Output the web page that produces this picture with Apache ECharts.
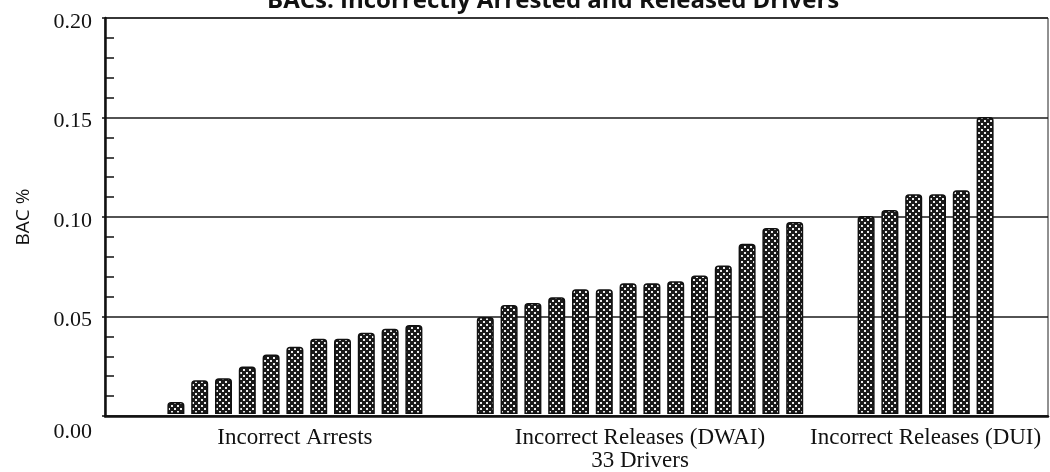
<!DOCTYPE html>
<html>
<head>
<meta charset="utf-8">
<script src="https://cdn.jsdelivr.net/npm/echarts@6/dist/echarts.min.js"></script>
<style>
  html, body { margin: 0; padding: 0; background: #fff; }
  #chart { width: 1050px; height: 472px; }
</style>
</head>
<body>
<div id="chart"></div>
<script>
// ---- data ----
const titleText = 'BACs: Incorrectly Arrested and Released Drivers';
const yAxisName = 'BAC %';
const groupNames = ['Incorrect Arrests', 'Incorrect Releases (DWAI)\n33 Drivers', 'Incorrect Releases (DUI)'];
const arrestsBAC = [0.006, 0.017, 0.018, 0.024, 0.030, 0.034, 0.038, 0.038, 0.041, 0.043, 0.045];
const dwaiBAC = [0.049, 0.055, 0.056, 0.059, 0.063, 0.063, 0.066, 0.066, 0.067, 0.070, 0.075, 0.086, 0.094, 0.097];
const duiBAC = [0.100, 0.103, 0.111, 0.111, 0.113, 0.150];
const yTickLabels = ['0.00', '0.05', '0.10', '0.15', '0.20'];

// ---- build slots (empty category slots between groups) ----
const GAP = 2;
const groups = [arrestsBAC, dwaiBAC, duiBAC];
const slotValues = [];
const groupStarts = [];
groups.forEach((g, i) => {
  if (i > 0) for (let k = 0; k < GAP; k++) slotValues.push('-');
  groupStarts.push(slotValues.length);
  g.forEach(v => slotValues.push(v));
});
const slotCats = slotValues.map((_, i) => 's' + i);
// label axis: half-slot resolution, boundaryGap false -> 2*N+1 points
const labelCats = new Array(slotValues.length * 2 + 1).fill('');
groups.forEach((g, i) => { labelCats[2 * groupStarts[i] + g.length] = groupNames[i]; });

// ---- dotted fill pattern ----
function makePattern() {
  const c = document.createElement('canvas');
  c.width = 6; c.height = 6;
  const g = c.getContext('2d');
  g.fillStyle = '#1a1a1a';
  g.fillRect(0, 0, 6, 6);
  g.fillStyle = '#eeeeee';
  g.fillRect(0, 0, 2, 2);
  g.fillRect(3, 3, 2, 2);
  return c;
}

const chart = echarts.init(document.getElementById('chart'), null, { renderer: 'canvas' });
const serif = 'Liberation Serif';
chart.setOption({
  animation: false,
  backgroundColor: '#ffffff',
  title: {
    text: titleText,
    left: 262,
    top: -16,
    textStyle: { fontFamily: 'Open Sans', fontWeight: 'bold', fontSize: 24, color: '#111' }
  },
  grid: [
    { left: 105, right: 2, top: 18, bottom: 56, show: true, borderColor: '#222', borderWidth: 1, backgroundColor: 'transparent' },
    { left: 164, right: 53, top: 18, bottom: 56, show: false }
  ],
  xAxis: [
    { gridIndex: 0, type: 'value', min: 0, max: 1, axisLine: { show: true, onZero: false, lineStyle: { color: '#111', width: 2.5 } },
      axisTick: { show: false }, axisLabel: { show: false }, splitLine: { show: false } },
    { gridIndex: 1, type: 'category', data: slotCats, position: 'bottom',
      axisLine: { show: false }, axisTick: { show: false }, axisLabel: { show: false }, splitLine: { show: false } },
    { gridIndex: 1, type: 'category', data: labelCats, position: 'bottom', boundaryGap: false,
      axisLine: { show: false }, axisTick: { show: false }, splitLine: { show: false },
      axisLabel: { show: true, interval: 0, margin: 12, fontFamily: serif, fontSize: 23, lineHeight: 23, color: '#111', hideOverlap: false } }
  ],
  yAxis: [
    { gridIndex: 0, type: 'value', min: 0, max: 0.2, interval: 0.05,
      name: yAxisName, nameLocation: 'middle', nameGap: 72,
      nameTextStyle: { fontFamily: 'Open Sans', fontSize: 19, color: '#111' },
      axisLine: { show: true, lineStyle: { color: '#111', width: 2.5 } },
      axisTick: { show: false, inside: true },
      minorTick: { show: true, splitNumber: 5, length: 9, lineStyle: { color: '#111', width: 1.5 } },
      splitLine: { show: true, lineStyle: { color: '#1a1a1a', width: 1.6 } },
      axisLabel: {
        margin: 13, fontFamily: serif, fontSize: 22, color: '#111',
        formatter: v => {
          const idx = Math.round(v / 0.05);
          const t = yTickLabels[idx];
          return idx === 0 ? '{z|' + t + '}' : '{n|' + t + '}';
        },
        rich: {
          z: { fontFamily: serif, fontSize: 22, color: '#111', padding: [32, 0, 0, 0] },
          n: { fontFamily: serif, fontSize: 22, color: '#111', padding: [8, 0, 0, 0] }
        }
      }
    },
    { gridIndex: 0, type: 'value', min: 0, max: 0.2, interval: 0.05, position: 'left',
      axisLine: { show: false }, axisTick: { show: true, length: 3, lineStyle: { color: '#111', width: 1.5 } },
      axisLabel: { show: false }, splitLine: { show: false } },
    { gridIndex: 1, type: 'value', min: 0, max: 0.2, show: false }
  ],
  series: [{
    type: 'bar',
    xAxisIndex: 1,
    yAxisIndex: 2,
    data: slotValues,
    barWidth: 17,
    itemStyle: {
      color: { image: makePattern(), repeat: 'repeat' },
      borderColor: '#111',
      borderWidth: 1.5,
      borderRadius: [3, 3, 0, 0]
    },
    silent: true
  }]
});
</script>
</body>
</html>
